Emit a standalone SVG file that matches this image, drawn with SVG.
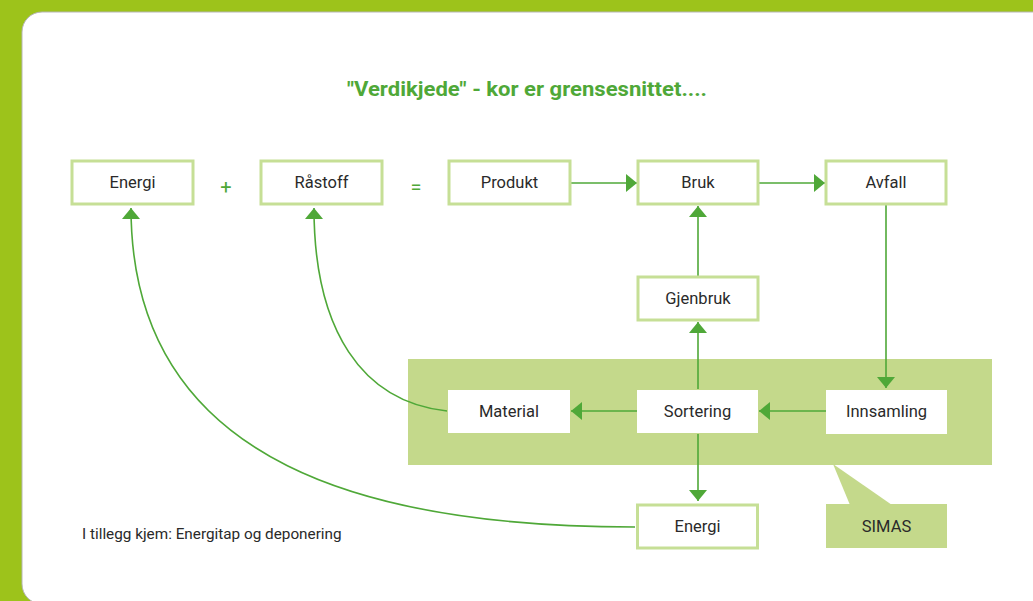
<svg xmlns="http://www.w3.org/2000/svg" width="1033" height="601" viewBox="0 0 1033 601">
  <defs>
    <style>
      .box { fill: #ffffff; stroke: #c6df96; stroke-width: 3; }
      .wbox { fill: #ffffff; }
      .simas { fill: #c4d98b; }
      .lbl { font-family: Roboto, "Liberation Sans", sans-serif; font-size: 16.5px; fill: #2a2a2a; text-anchor: middle; }
      .op { font-family: Roboto, "Liberation Sans", sans-serif; font-size: 20px; fill: #4fa838; text-anchor: middle; }
      .title { font-family: Roboto, "Liberation Sans", sans-serif; font-size: 21px; font-weight: bold; fill: #4fa838; }
      .note { font-family: Roboto, "Liberation Sans", sans-serif; font-size: 15.3px; fill: #2a2a2a; }
      .conn { fill: none; stroke: #4fa838; stroke-width: 1.6; }
    </style>
    <marker id="arr" viewBox="0 0 11 18" refX="11" refY="9" markerWidth="11" markerHeight="18" markerUnits="userSpaceOnUse" orient="auto">
      <path d="M0,0 L11,9 L0,18 Z" fill="#4fa838"/>
    </marker>
  </defs>

  <!-- background -->
  <rect x="0" y="0" width="1033" height="601" fill="#9dc31b"/>
  <rect x="22" y="12" width="1040" height="592" rx="20" ry="20" fill="#ffffff" stroke="#b5b5b5" stroke-width="1"/>

  <text class="title" x="347" y="96" textLength="360" lengthAdjust="spacingAndGlyphs">"Verdikjede" - kor er grensesnittet....</text>

  <!-- SIMAS panel -->
  <g id="simas-panel">
    <rect class="simas" x="408" y="359" width="584" height="106"/>
    <polygon class="simas" points="833,464 850,505 892,505"/>
  </g>

  <!-- connectors -->
  <g id="connectors">
    <line class="conn" x1="570" y1="183" x2="637" y2="183" marker-end="url(#arr)"/>
    <line class="conn" x1="758" y1="183" x2="825" y2="183" marker-end="url(#arr)"/>
    <line class="conn" x1="886" y1="205" x2="886" y2="388" marker-end="url(#arr)"/>
    <line class="conn" x1="826" y1="411" x2="759" y2="411" marker-end="url(#arr)"/>
    <line class="conn" x1="637" y1="411" x2="571" y2="411" marker-end="url(#arr)"/>
    <line class="conn" x1="698" y1="389" x2="698" y2="322" marker-end="url(#arr)"/>
    <line class="conn" x1="698" y1="276" x2="698" y2="206" marker-end="url(#arr)"/>
    <line class="conn" x1="698" y1="434" x2="698" y2="501" marker-end="url(#arr)"/>
    <path class="conn" d="M447,411 C362,402 314,330 314,208" marker-end="url(#arr)"/>
    <path class="conn" d="M635,527 C380,527 131,470 131,208" marker-end="url(#arr)"/>
  </g>

  <!-- nodes -->
  <g id="energi-top">
    <rect class="box" x="72" y="161" width="121" height="43"/>
    <text class="lbl" x="132.5" y="188">Energi</text>
  </g>
  <g id="plus">
    <text class="op" x="226" y="194">+</text>
  </g>
  <g id="rastoff">
    <rect class="box" x="261" y="161" width="121" height="43"/>
    <text class="lbl" x="321.5" y="188">Råstoff</text>
  </g>
  <g id="equals">
    <text class="op" x="416" y="194">=</text>
  </g>
  <g id="produkt">
    <rect class="box" x="449" y="161" width="121" height="43"/>
    <text class="lbl" x="509.5" y="188">Produkt</text>
  </g>
  <g id="bruk">
    <rect class="box" x="638" y="161" width="120" height="43"/>
    <text class="lbl" x="698" y="188">Bruk</text>
  </g>
  <g id="avfall">
    <rect class="box" x="826" y="161" width="120" height="43"/>
    <text class="lbl" x="886" y="188">Avfall</text>
  </g>
  <g id="gjenbruk">
    <rect class="box" x="638" y="277" width="120" height="43"/>
    <text class="lbl" x="698" y="304">Gjenbruk</text>
  </g>
  <g id="material">
    <rect class="wbox" x="448" y="390" width="122" height="43"/>
    <text class="lbl" x="509" y="417">Material</text>
  </g>
  <g id="sortering">
    <rect class="wbox" x="637" y="390" width="121" height="43"/>
    <text class="lbl" x="697.5" y="417">Sortering</text>
  </g>
  <g id="innsamling">
    <rect class="wbox" x="826" y="390" width="121" height="44"/>
    <text class="lbl" x="886.5" y="417">Innsamling</text>
  </g>
  <g id="energi-bottom">
    <rect class="box" x="637.5" y="505" width="120" height="43"/>
    <text class="lbl" x="697.5" y="532">Energi</text>
  </g>
  <g id="simas">
    <rect class="simas" x="826" y="504" width="121" height="44"/>
    <text class="lbl" x="886.5" y="532">SIMAS</text>
  </g>

  <text class="note" x="82" y="539">I tillegg kjem: Energitap og deponering</text>
</svg>
